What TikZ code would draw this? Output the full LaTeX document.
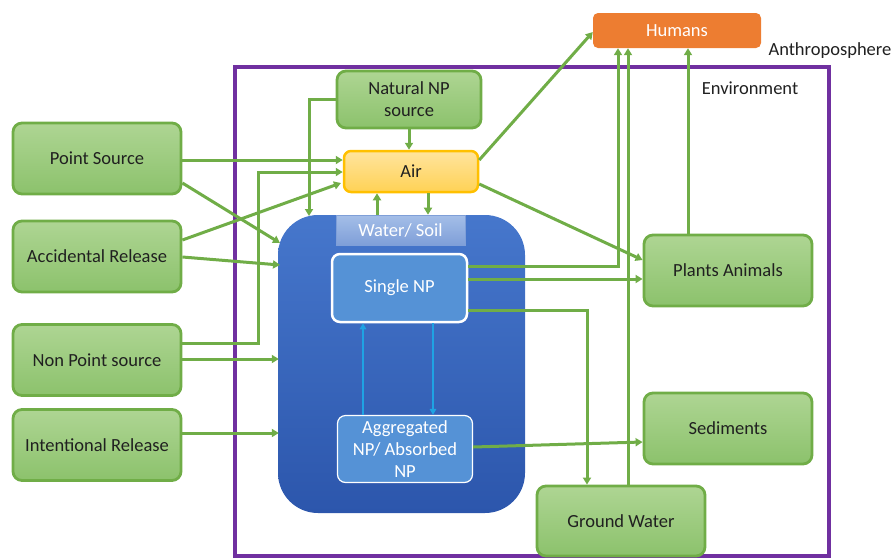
\documentclass[tikz,border=0pt]{standalone}
\usepackage{fontspec}
\setmainfont{Carlito}
\usetikzlibrary{arrows.meta,calc}
\definecolor{gbord}{HTML}{70AD47}
\definecolor{gtop}{HTML}{AED593}
\definecolor{gbot}{HTML}{8CC26C}
\definecolor{txt}{HTML}{202020}
\definecolor{envc}{HTML}{7030A0}
\definecolor{humc}{HTML}{ED7D31}
\definecolor{airtop}{HTML}{FFE49E}
\definecolor{airbot}{HTML}{FFD255}
\definecolor{airbord}{HTML}{FFC000}
\definecolor{bigtop}{HTML}{4677CC}
\definecolor{bigbot}{HTML}{2C56AC}
\definecolor{wstop}{HTML}{A4BEE8}
\definecolor{wsbot}{HTML}{7F9FD8}
\definecolor{npc}{HTML}{5592D6}
\definecolor{bluar}{HTML}{1FA3E3}
\begin{document}
\begin{tikzpicture}[x=1pt,y=-1pt,
  font=\fontsize{18.5}{22}\selectfont,
  gbox/.style={draw=gbord, line width=2.8pt, rounded corners=9pt, top color=gtop, bottom color=gbot,
    text=txt, inner sep=0pt, align=center, minimum width=168pt, minimum height=71pt},
  ga/.style={draw=gbord, line width=3pt, -{Triangle[length=7pt,width=8pt]}},
  ba/.style={draw=bluar, line width=2pt, -{Triangle[length=6pt,width=6.5pt]}},
  npbox/.style={fill=npc, draw=white, rounded corners=8pt, text=white, inner sep=0pt, align=center}
]
\useasboundingbox (0,0) rectangle (892,558);

% environment frame
\draw[envc, line width=3.5pt] (235,67) rectangle (829,556);
\node[anchor=west, text=txt] (anth) at (765,51) {Anthroposphere};
\node[text=txt] (envl) at (750,88) {Environment};

% big water/soil compartment
\node[top color=bigtop, bottom color=bigbot, rounded corners=40pt, minimum width=247pt,
  minimum height=298pt, inner sep=0pt] (big) at (401.5,364) {};
\node[top color=wstop, bottom color=wsbot, draw=wsbot, line width=0.6pt, text=white,
  minimum width=129pt, minimum height=30pt, inner sep=0pt] (ws) at (400.5,230) {Water/ Soil};
\node[npbox, line width=2.5pt, minimum width=135pt, minimum height=68pt] (snp) at (399.5,288) {Single NP};
\node[npbox, line width=1.2pt, minimum width=135pt, minimum height=67pt] (agg) at (405,449)
  {Aggregated\\NP/ Absorbed\\NP};

% top nodes
\node[fill=humc, rounded corners=5pt, text=white, minimum width=168pt, minimum height=35pt,
  inner sep=0pt] (hum) at (677,30.5) {Humans};
\node[gbox, minimum width=144pt, minimum height=57pt] (nat) at (409,99.5) {Natural NP\\source};
\node[draw=airbord, line width=2.5pt, top color=airtop, bottom color=airbot, rounded corners=7pt,
  minimum width=134pt, minimum height=41pt, inner sep=0pt, text=txt] (air) at (411,171.5) {Air};

% left sources
\node[gbox] (ps) at (97,158.5) {Point Source};
\node[gbox] (ar) at (97,256.5) {Accidental Release};
\node[gbox] (nps) at (97,360) {Non Point source};
\node[gbox] (ir) at (97,445) {Intentional Release};

% right sinks
\node[gbox] (pa) at (728,270.5) {Plants Animals};
\node[gbox] (sed) at (728,428.5) {Sediments};
\node[gbox, minimum height=70pt] (gw) at (621,521) {Ground Water};

% free ends on the rounded compartment
\coordinate (bA) at (280,243);
\coordinate (bB) at (280,265);
\coordinate (bC) at (309,216);
\coordinate (aA) at (341,183);

% green connectors
\draw[ga] (ps.east |- 0,160) -- (air.west |- 0,160);
\draw[ga] (ps.east |- 0,183) -- (bA);
\draw[ga] (ar.east |- 0,240) -- (aA);
\draw[ga] (ar.east |- 0,257) -- (bB);
\draw[ga] (nps.east |- 0,343) -- ++(76,0) |- (air.west |- 0,172);
\draw[ga] (nps.east |- 0,359) -- ([xshift=1pt]big.west |- 0,359);
\draw[ga] (ir.east |- 0,433) -- ([xshift=1pt]big.west |- 0,433);
\draw[ga] (nat.south) -- (nat.south |- air.north);
\draw[ga] (nat.west) -| (bC);
\draw[ga] (ws.north -| 377,0) -- (air.south -| 377,0);
\draw[ga] (air.south -| 428,0) -- (ws.north -| 428,0);
\draw[ga] (air.east |- 0,160) -- (hum.west |- 0,32);
\draw[ga] (air.east |- 0,184) -- (pa.west |- 0,260);
\draw[ga] (snp.east |- 0,266) -| (hum.south -| 618,0);
\draw[ga] (gw.north -| 628,0) -- (hum.south -| 628,0);
\draw[ga] (pa.north -| 688,0) -- (hum.south -| 688,0);
\draw[ga] (snp.east |- 0,279) -- (pa.west |- 0,279);
\draw[ga] (snp.east |- 0,310) -| (gw.north -| 587,0);
\draw[ga] (agg.east |- 0,447) -- (sed.west |- 0,442);

% blue connectors
\draw[ba] (agg.north -| 363,0) -- (snp.south -| 363,0);
\draw[ba] (snp.south -| 433,0) -- (agg.north -| 433,0);
\end{tikzpicture}
\end{document}
